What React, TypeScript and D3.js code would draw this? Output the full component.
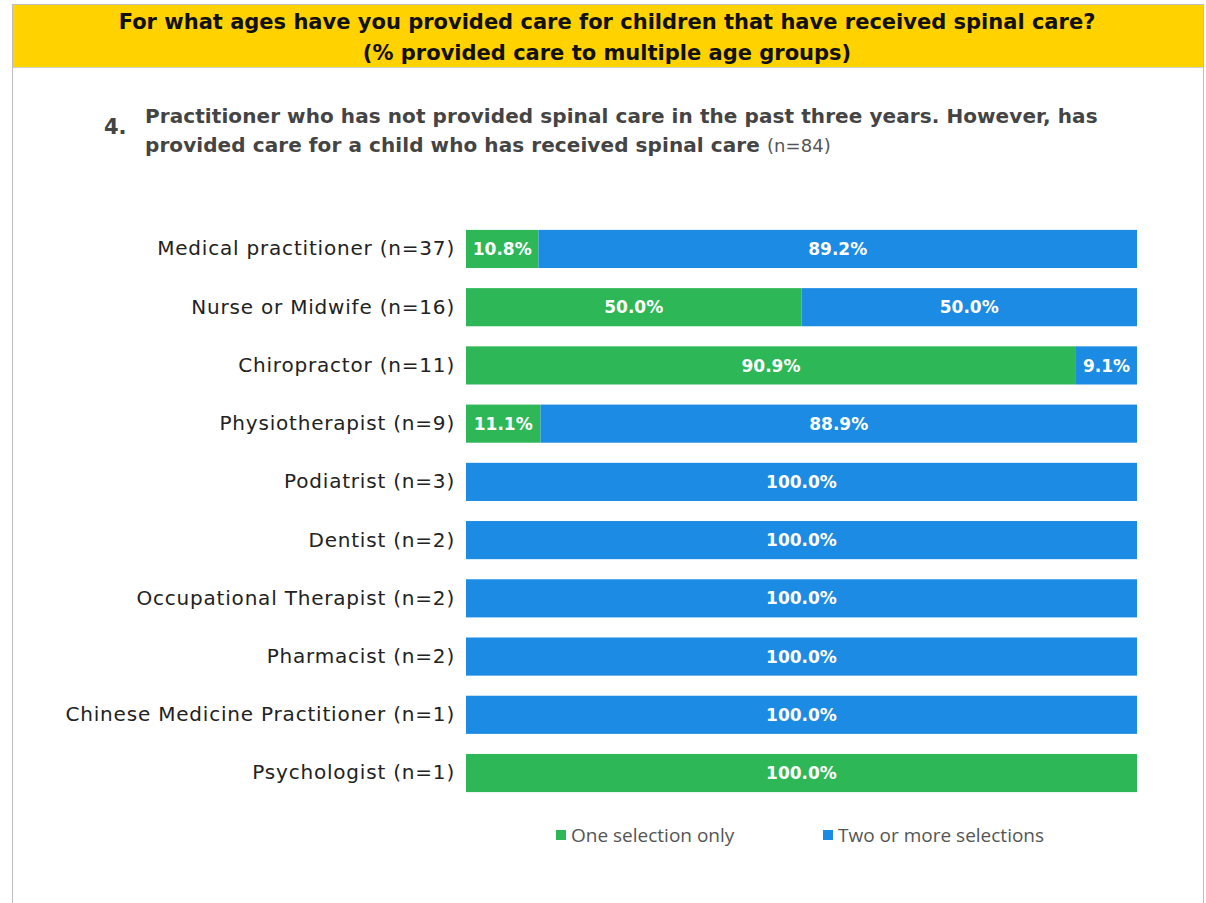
import React, { useEffect, useRef } from 'react';
import * as d3 from 'd3';

const categories = [
  'Medical practitioner (n=37)',
  'Nurse or Midwife (n=16)',
  'Chiropractor (n=11)',
  'Physiotherapist (n=9)',
  'Podiatrist (n=3)',
  'Dentist (n=2)',
  'Occupational Therapist (n=2)',
  'Pharmacist (n=2)',
  'Chinese Medicine Practitioner (n=1)',
  'Psychologist (n=1)',
];
const oneSelection = [10.8, 50.0, 90.9, 11.1, 0, 0, 0, 0, 0, 100.0];
const twoOrMore = [89.2, 50.0, 9.1, 88.9, 100.0, 100.0, 100.0, 100.0, 100.0, 0];
const seriesNames = ['One selection only', 'Two or more selections'];
const colors = ['#2db757', '#1b8be3'];

const W = 1206;
const H = 903;
const font = "'DejaVu Sans', sans-serif";
const legendFont = "'Open Sans', 'Noto Sans', sans-serif";

export default function App() {
  const ref = useRef<SVGSVGElement>(null);

  useEffect(() => {
    const svg = d3.select(ref.current);
    svg.selectAll('*').remove();

    // frame + header band
    svg.append('rect').attr('x', 12.5).attr('y', 4.5).attr('width', 1191).attr('height', 910)
      .attr('fill', '#fff').attr('stroke', '#bdbdbd');
    svg.append('rect').attr('x', 13).attr('y', 5).attr('width', 1190).attr('height', 62).attr('fill', '#ffd200');
    svg.append('line').attr('x1', 13).attr('x2', 1203).attr('y1', 67.5).attr('y2', 67.5).attr('stroke', '#cfcfcf');

    const header = svg.append('text').attr('text-anchor', 'middle').attr('font-family', font)
      .attr('font-weight', 'bold').attr('font-size', 21).attr('fill', '#111');
    header.append('tspan').attr('x', 607).attr('y', 29).text('For what ages have you provided care for children that have received spinal care?');
    header.append('tspan').attr('x', 607).attr('y', 60).text('(% provided care to multiple age groups)');

    svg.append('text').attr('x', 104).attr('y', 134).attr('font-family', font).attr('font-weight', 'bold')
      .attr('font-size', 21).attr('fill', '#444').text('4.');
    const sub = svg.append('text').attr('font-family', font).attr('font-size', 20).attr('fill', '#444')
      .attr('letter-spacing', 0.08);
    sub.append('tspan').attr('x', 145).attr('y', 123).attr('font-weight', 'bold')
      .text('Practitioner who has not provided spinal care in the past three years. However, has');
    const l2 = sub.append('tspan').attr('x', 145).attr('y', 152);
    l2.append('tspan').attr('font-weight', 'bold').text('provided care for a child who has received spinal care ');
    l2.append('tspan').attr('font-size', 18).attr('fill', '#555').text('(n=84)');

    // scales
    const x = d3.scaleLinear().domain([0, 100]).range([466, 1137]);
    const y = d3.scaleBand().domain(categories).range([220, 802]).paddingInner(0.345).paddingOuter(0.17);

    const stacked = d3.stack<number>().keys(['0', '1'])
      .value((i, k) => (k === '0' ? oneSelection[i] : twoOrMore[i]))(d3.range(categories.length));

    stacked.forEach((layer, si) => {
      const g = svg.append('g');
      layer.forEach((d, i) => {
        const w = x(d[1]) - x(d[0]);
        if (w <= 0) return;
        g.append('rect').attr('x', x(d[0])).attr('y', y(categories[i])!)
          .attr('width', w).attr('height', y.bandwidth()).attr('fill', colors[si]);
        g.append('text').attr('x', (x(d[0]) + x(d[1])) / 2).attr('y', y(categories[i])! + y.bandwidth() / 2)
          .attr('dy', '0.36em').attr('text-anchor', 'middle').attr('font-family', font)
          .attr('font-weight', 'bold').attr('font-size', 17).attr('fill', '#fff')
          .text(`${(d[1] - d[0]).toFixed(1)}%`);
      });
    });

    const axis = svg.append('g').attr('transform', 'translate(458,0)')
      .call(d3.axisLeft(y).tickSize(0).tickPadding(3));
    axis.select('.domain').remove();
    axis.selectAll('text').attr('font-family', font).attr('font-size', 20).attr('fill', '#222')
      .attr('letter-spacing', 0.8);

    // legend
    const legendX = [556, 823];
    seriesNames.forEach((name, i) => {
      svg.append('rect').attr('x', legendX[i]).attr('y', 830).attr('width', 10).attr('height', 10).attr('fill', colors[i]);
      svg.append('text').attr('x', legendX[i] + 15).attr('y', 842).attr('font-family', legendFont)
        .attr('font-size', 19).attr('fill', '#555').text(name);
    });
  }, []);

  return (
    <svg ref={ref} width={W} height={H}
      style={{ position: 'absolute', left: 0, top: 0, background: '#fff', display: 'block' }} />
  );
}
